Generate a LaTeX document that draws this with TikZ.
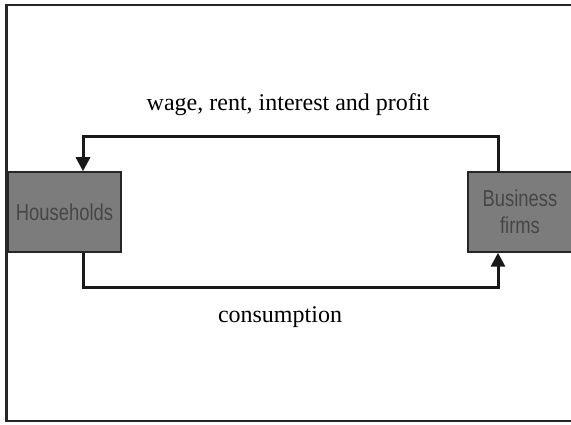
\documentclass[tikz,border=0pt]{standalone}
\usepackage{fontspec}
\setmainfont{Liberation Serif}
\newfontfamily\boxfont[FakeStretch=0.8]{Liberation Sans}
\usepackage{xcolor}
\usepackage{tikz}
\usetikzlibrary{positioning,arrows.meta}
\definecolor{boxgray}{RGB}{124,124,124}
\definecolor{boxtext}{RGB}{70,70,70}
\tikzstyle{sector}=[rectangle, draw=black!85, line width=1.5pt, fill=boxgray,
        text centered, text=boxtext, font=\boxfont\fontsize{23}{27}\selectfont,
        minimum height=80pt, inner sep=0pt]
\tikzstyle{flow}=[line width=3pt, black!90, -{Triangle[length=14pt,width=14pt]}]
\tikzstyle{label}=[font=\fontsize{24}{28}\selectfont, anchor=base]

\begin{document}
\begin{tikzpicture}[x=1pt,y=-1pt]
      \useasboundingbox (0,0) rectangle (571,425);
      \clip (0,0) rectangle (571,425);
      % frame
      \draw[line width=2.5pt, black!85] (575,5) -- (6.5,5) -- (6.5,421) -- (575,421);
      \node (House) [sector, minimum width=113pt] at (64.5,212) {Households};
      \node (Firms) [sector, minimum width=104pt, text width=90pt] at (520,212)
      {Business\\ firms};
      % income and spending
      \draw[flow] ([xshift=-22pt]Firms.north) -- ++(0,-35) -| ([xshift=18.5pt]House.north);
      \draw[flow] ([xshift=18.5pt]House.south) -- ++(0,35) -| ([xshift=-22pt]Firms.south);
      \node (Income) [label] at (288,111) {wage, rent, interest and profit};
      \node (Spend) [label] at (280,322) {consumption};
    \end{tikzpicture}
\end{document}
